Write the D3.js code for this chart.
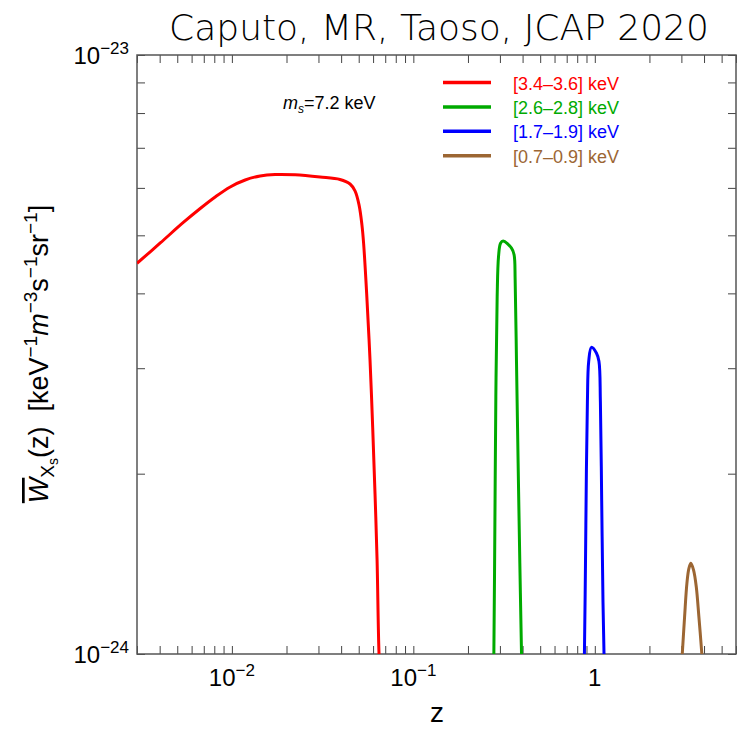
<!DOCTYPE html>
<html>
<head>
<meta charset="utf-8">
<script src="https://cdnjs.cloudflare.com/ajax/libs/d3/7.8.5/d3.min.js"></script>
<style>
  body { margin: 0; background: #fff; }
  svg { display: block; }
  .axe path { display: none; }
  .axe line { stroke: #444; stroke-width: 1; }
</style>
</head>
<body>
<svg id="fig" width="737" height="732"></svg>
<script>
// valeurs (W en unites de 1e-24)
var zRouge = [0.003, 0.00403, 0.0054, 0.00669, 0.00809, 0.00979, 0.01184, 0.01431, 0.0173, 0.0223, 0.0306, 0.0394, 0.0448, 0.0477, 0.0502, 0.0521, 0.0532, 0.0553, 0.0577, 0.0597, 0.0615, 0.0631, 0.0647, 0.0665];
var wRouge = [4.49, 4.855, 5.253, 5.543, 5.794, 6.022, 6.185, 6.281, 6.317, 6.31, 6.257, 6.198, 6.09, 5.93, 5.62, 5.20, 4.85, 4.00, 3.10, 2.39, 1.85, 1.44, 1.0, 0.85];

var zVert = [0.276, 0.2778, 0.2813, 0.2849, 0.2897, 0.2948, 0.3024, 0.3125, 0.3475, 0.3591, 0.364, 0.3703, 0.378, 0.3862, 0.3946, 0.397];
var wVert = [0.9, 1.0, 1.61, 2.69, 3.95, 4.61, 4.85, 4.89, 4.76, 4.64, 4.21, 3.06, 2.08, 1.42, 1.0, 0.9];

var zBleu = [0.87, 0.8766, 0.888, 0.8992, 0.9105, 0.9256, 0.958, 1.0205, 1.054, 1.0735, 1.0914, 1.1096, 1.124, 1.13];
var wBleu = [0.9, 1.0, 1.39, 2.04, 2.64, 3.08, 3.25, 3.18, 3.08, 2.64, 1.80, 1.22, 1.0, 0.9];

var zBrun = [3.0, 3.034, 3.125, 3.218, 3.301, 3.385, 3.502, 3.624, 3.746, 3.89, 3.93];
var wBrun = [0.95, 1.0, 1.154, 1.312, 1.39, 1.417, 1.38, 1.295, 1.154, 1.0, 0.95];

var bandes = ["[3.4\u20133.6] keV", "[2.6\u20132.8] keV", "[1.7\u20131.9] keV", "[0.7\u20130.9] keV"];
var couleurs = ["#ff0000", "#00aa00", "#0000ff", "#9c6633"];

var xTicksLabels = [0.01, 0.1, 1];
var yTicksLabels = [1e-24, 1e-23];
var unite = 1e-24;

var svg = d3.select("#fig");
var margin = {top: 55, right: 1, bottom: 78, left: 137},
    width = +svg.attr("width") - margin.left - margin.right,
    height = +svg.attr("height") - margin.top - margin.bottom;

var x = d3.scaleLog().domain([0.003, 6]).range([margin.left, margin.left + width]);
var y = d3.scaleLog().domain([1e-24, 1e-23]).range([margin.top + height, margin.top]);

// graduations mineures
var xMin = [];
for (var e = -3; e <= 0; e++) {
    for (var m = 1; m <= 9; m++) {
        var v = m * Math.pow(10, e);
        if (v >= 0.003 && v <= 6) xMin.push(v);
    }
}
var yMin = d3.range(1, 11).map(function(k) { return k * 1e-24; });

var tl = 8;
svg.append("g").attr("class", "axe")
    .attr("transform", "translate(0," + y.range()[0] + ")")
    .call(d3.axisBottom(x).tickValues(xMin).tickSize(-tl).tickFormat(""));
svg.append("g").attr("class", "axe")
    .attr("transform", "translate(0," + y.range()[1] + ")")
    .call(d3.axisTop(x).tickValues(xMin).tickSize(-tl).tickFormat(""));
svg.append("g").attr("class", "axe")
    .attr("transform", "translate(" + x.range()[0] + ",0)")
    .call(d3.axisLeft(y).tickValues(yMin).tickSize(-tl).tickFormat(""));
svg.append("g").attr("class", "axe")
    .attr("transform", "translate(" + x.range()[1] + ",0)")
    .call(d3.axisRight(y).tickValues(yMin).tickSize(-tl).tickFormat(""));

// cadre
svg.append("rect")
    .attr("x", x.range()[0]).attr("y", y.range()[1])
    .attr("width", x.range()[1] - x.range()[0])
    .attr("height", y.range()[0] - y.range()[1])
    .attr("fill", "none").attr("stroke", "#555").attr("stroke-width", 1.5);

// etiquettes puissances de 10
function puissance(sel, expo) {
    if (expo === 0) { sel.append("tspan").text("1"); return; }
    sel.append("tspan").text("10");
    sel.append("tspan").attr("dy", -10).style("font-size", "17px").text("\u2212" + Math.abs(expo));
}
xTicksLabels.forEach(function(v) {
    var t = svg.append("text")
        .attr("x", x(v)).attr("y", 686)
        .attr("text-anchor", "middle")
        .style("font", "24px 'Liberation Sans', Arial, sans-serif");
    puissance(t, Math.round(Math.log10(v)));
});
yTicksLabels.forEach(function(v) {
    var t = svg.append("text")
        .attr("x", 129).attr("y", y(v) + 9)
        .attr("text-anchor", "end")
        .style("font", "24px 'Liberation Sans', Arial, sans-serif");
    puissance(t, Math.round(Math.log10(v)));
});

// courbes
svg.append("clipPath").attr("id", "zone").append("rect")
    .attr("x", x.range()[0]).attr("y", y.range()[1])
    .attr("width", x.range()[1] - x.range()[0])
    .attr("height", y.range()[0] - y.range()[1]);

var ligne = d3.line()
    .x(function(d) { return x(d[0]); })
    .y(function(d) { return y(d[1] * unite); })
    .curve(d3.curveCatmullRom.alpha(0.5));

var series = [[zRouge, wRouge], [zVert, wVert], [zBleu, wBleu], [zBrun, wBrun]];
series.forEach(function(s, i) {
    var pts = s[0].map(function(z, j) { return [z, s[1][j]]; });
    svg.append("path")
        .attr("clip-path", "url(#zone)")
        .attr("d", ligne(pts))
        .attr("fill", "none")
        .attr("stroke", couleurs[i])
        .attr("stroke-width", 3)
        .attr("stroke-linejoin", "round");
});

// legende
var leg = svg.append("g");
bandes.forEach(function(b, i) {
    var yy = 82.5 + i * 24.4;
    leg.append("line")
        .attr("x1", 443).attr("x2", 491).attr("y1", yy).attr("y2", yy)
        .attr("stroke", couleurs[i]).attr("stroke-width", 3.5);
    leg.append("text")
        .attr("x", 513).attr("y", yy + 7)
        .attr("fill", couleurs[i])
        .style("font", "18px 'Liberation Sans', Arial, sans-serif")
        .text(b);
});

// annotation m_s
var ann = svg.append("text")
    .attr("x", 283).attr("y", 109)
    .style("font", "18px 'Liberation Sans', Arial, sans-serif");
ann.append("tspan").style("font-style", "italic").text("m");
ann.append("tspan").attr("dy", 4).style("font-size", "12px").style("font-style", "italic").text("s");
ann.append("tspan").attr("dy", -4).text("=7.2 keV");

// titre
svg.append("text")
    .attr("x", 439).attr("y", 40)
    .attr("text-anchor", "middle")
    .style("font-family", "'DejaVu Sans', sans-serif")
    .style("font-weight", 200)
    .style("font-size", "36px")
    .text("Caputo, MR, Taoso, JCAP 2020");

// titres des axes
svg.append("text")
    .attr("x", 437).attr("y", 722)
    .attr("text-anchor", "middle")
    .style("font", "28px 'Liberation Sans', Arial, sans-serif")
    .text("z");

var yl = svg.append("text")
    .attr("transform", "translate(48,354) rotate(-90)")
    .attr("text-anchor", "middle")
    .style("font", "27px 'Liberation Sans', Arial, sans-serif");
yl.append("tspan").style("font-style", "italic").style("text-decoration", "overline").text("W");
yl.append("tspan").attr("dy", 6).style("font-size", "19px").text("X");
yl.append("tspan").attr("dy", 4).style("font-size", "14px").text("s");
yl.append("tspan").attr("dy", -10).text("(z)\u00a0\u00a0[keV");
yl.append("tspan").attr("dy", -11).style("font-size", "19px").text("\u22121");
yl.append("tspan").attr("dy", 11).style("font-style", "italic").text("m");
yl.append("tspan").attr("dy", -11).style("font-size", "19px").text("\u22123");
yl.append("tspan").attr("dy", 11).text("s");
yl.append("tspan").attr("dy", -11).style("font-size", "19px").text("\u22121");
yl.append("tspan").attr("dy", 11).text("sr");
yl.append("tspan").attr("dy", -11).style("font-size", "19px").text("\u22121");
yl.append("tspan").attr("dy", 11).text("]");
</script>
</body>
</html>
